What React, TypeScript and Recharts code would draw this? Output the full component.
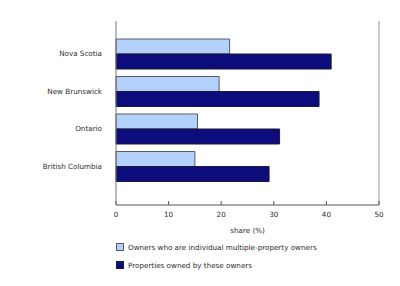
import { BarChart, Bar, XAxis, YAxis, ReferenceLine } from "recharts";

const provinces = ["Nova Scotia", "New Brunswick", "Ontario", "British Columbia"];
const ownersShare = [21.6, 19.6, 15.5, 15.0];
const propertiesShare = [40.9, 38.6, 31.1, 29.1];
const xTicks = [0, 10, 20, 30, 40, 50];

const ownersLabel = "Owners who are individual multiple-property owners";
const propertiesLabel = "Properties owned by these owners";

const data = provinces.map((p, i) => ({
    province: p,
    owners: ownersShare[i],
    properties: propertiesShare[i],
}));

const font = "'DejaVu Sans', Verdana, sans-serif";
const textColor = "#2a2a2a";
const lightBlue = "#b3d1fb";
const navy = "#0c0c7c";

const LegendRow = ({ color, border, text }: { color: string; border: string; text: string }) => (
    <div style={{ display: "flex", alignItems: "center", height: 18 }}>
        <span
            style={{
                width: 6,
                height: 6,
                background: color,
                border: `1px solid ${border}`,
                marginRight: 4,
            }}
        />
        <span style={{ fontSize: 7.2, color: textColor, fontFamily: font }}>{text}</span>
    </div>
);

const App = () => {
    return (
        <div style={{ position: "absolute", left: 0, top: 0, width: 400, height: 286, background: "#fff" }}>
            <BarChart
                width={400}
                height={286}
                data={data}
                layout="vertical"
                margin={{ top: 21, right: 21, left: 0, bottom: 51 }}
                barSize={15}
                barGap={0}
            >
                <XAxis
                    type="number"
                    domain={[0, 50]}
                    ticks={xTicks}
                    interval={0}
                    height={30}
                    tickSize={-4}
                    tickMargin={11}
                    stroke="#555"
                    tick={{ fontSize: 7.2, fill: textColor, fontFamily: font }}
                    label={{
                        value: "share (%)",
                        position: "insideBottom",
                        offset: 2,
                        fontSize: 7.2,
                        fill: textColor,
                        fontFamily: font,
                    }}
                />
                <XAxis
                    xAxisId="top"
                    orientation="top"
                    type="number"
                    domain={[0, 50]}
                    height={0}
                    tick={false}
                    tickLine={false}
                    stroke="#999"
                />
                <YAxis
                    type="category"
                    dataKey="province"
                    width={116}
                    padding={{ top: 14, bottom: 20 }}
                    tickLine={false}
                    tickMargin={8}
                    stroke="#777"
                    tick={{ fontSize: 7.2, fill: textColor, fontFamily: font }}
                />
                <ReferenceLine x={50} stroke="#999" ifOverflow="visible" />
                <Bar dataKey="owners" name={ownersLabel} fill={lightBlue} stroke="#5a5a6a" isAnimationActive={false} />
                <Bar dataKey="properties" name={propertiesLabel} fill={navy} stroke="#1a1a3a" isAnimationActive={false} />
            </BarChart>
            <div style={{ position: "absolute", left: 116, top: 238 }}>
                <LegendRow color={lightBlue} border="#5a5a6a" text={ownersLabel} />
                <LegendRow color={navy} border="#1a1a3a" text={propertiesLabel} />
            </div>
        </div>
    );
};

export default App;
